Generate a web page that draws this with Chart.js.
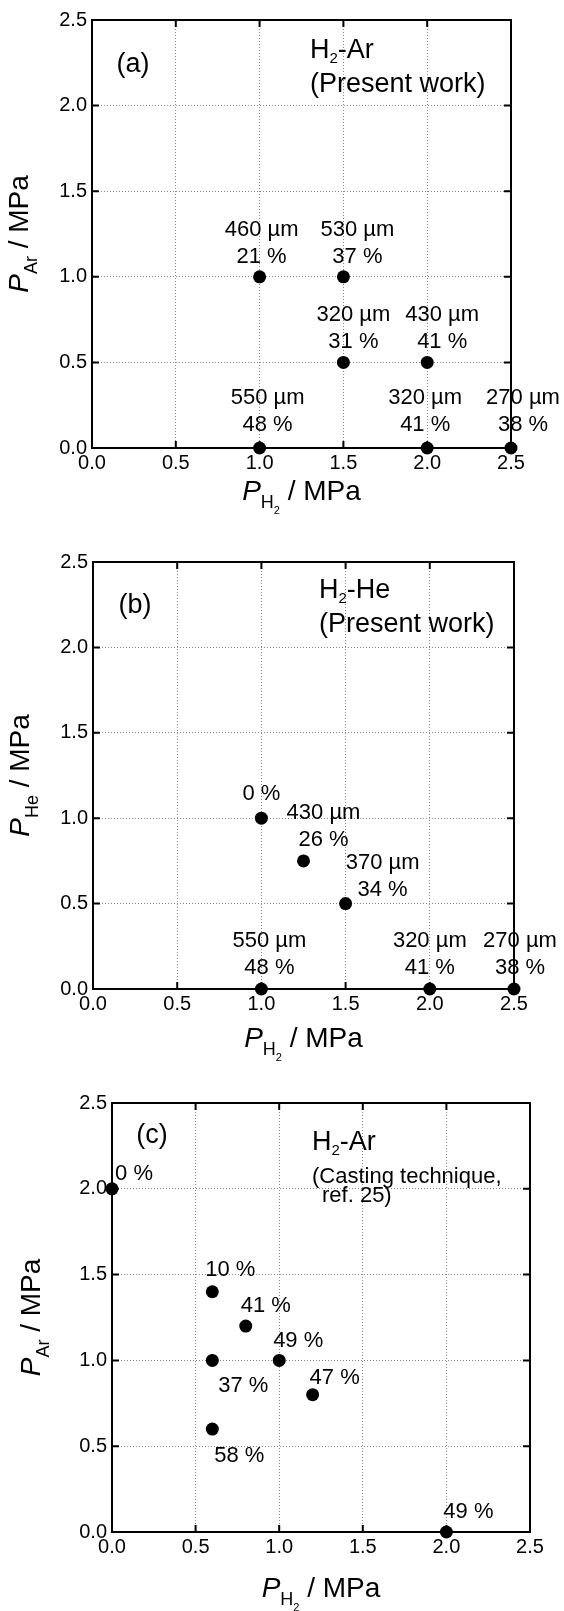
<!DOCTYPE html>
<html lang="en">
<head>
    <meta charset="UTF-8">
    <title>Pore size and porosity vs. gas pressures</title>
    <script src="https://cdn.jsdelivr.net/npm/chart.js"></script>
    <style>
        body { margin: 0; background: #fff; }
        .panel { position: absolute; left: 0; }
    </style>
</head>
<body>
    <canvas id="chartA" class="panel" style="top:0px" width="564" height="520"></canvas>
    <canvas id="chartB" class="panel" style="top:520px" width="564" height="545"></canvas>
    <canvas id="chartC" class="panel" style="top:1065px" width="564" height="546"></canvas>

    <script>
        const tickValues = [0, 0.5, 1.0, 1.5, 2.0, 2.5];

        // (a) H2-Ar, present work
        const h2A = [1.0, 1.5, 1.5, 2.0, 1.0, 2.0, 2.5];
        const arA = [1.0, 1.0, 0.5, 0.5, 0.0, 0.0, 0.0];
        const poreSizeA = ['460 µm', '530 µm', '320 µm', '430 µm', '550 µm', '320 µm', '270 µm'];
        const porosityA = ['21 %', '37 %', '31 %', '41 %', '48 %', '41 %', '38 %'];

        // (b) H2-He, present work
        const h2B = [1.0, 1.25, 1.5, 1.0, 2.0, 2.5];
        const heB = [1.0, 0.75, 0.5, 0.0, 0.0, 0.0];
        const poreSizeB = ['', '430 µm', '370 µm', '550 µm', '320 µm', '270 µm'];
        const porosityB = ['0 %', '26 %', '34 %', '48 %', '41 %', '38 %'];

        // (c) H2-Ar, casting technique (ref. 25)
        const h2C = [0.0, 0.6, 0.8, 0.6, 1.0, 1.2, 0.6, 2.0];
        const arC = [2.0, 1.4, 1.2, 1.0, 1.0, 0.8, 0.6, 0.0];
        const porosityC = ['0 %', '10 %', '41 %', '37 %', '49 %', '47 %', '58 %', '49 %'];

        // label placement (px from the dot, centre of the last line)
        const shiftA = [[2, -22], [14, -22], [10, -22], [15, -22], [8, -25], [-2, -25], [12, -25]];
        const shiftB = [[0, -26], [20, -23], [37, -16], [8, -23], [0, -23], [6, -23]];
        const shiftC = [[22, -17], [18, -24], [20, -22], [31, 24], [19, -21], [22, -19], [27, 25], [22, -22]];

        const FONT = "'Liberation Sans', Arial, Helvetica, sans-serif";

        const fontStr = (p) => (p.italic ? 'italic ' : '') + p.size + 'px ' + FONT;

        // text made of pieces, for sub-scripts
        function drawRich(ctx, parts, x, y, align) {
            let w = 0;
            parts.forEach(p => { ctx.font = fontStr(p); w += ctx.measureText(p.t).width; });
            let cx = align === 'center' ? x - w / 2 : x;
            ctx.textAlign = 'left';
            ctx.textBaseline = 'alphabetic';
            parts.forEach(p => {
                ctx.font = fontStr(p);
                ctx.fillText(p.t, cx, y + (p.dy || 0));
                cx += ctx.measureText(p.t).width;
            });
        }

        const decorPlugin = {
            id: 'decor',
            beforeDatasetsDraw(chart, args, o) {
                const { ctx, chartArea: a, scales: { x, y } } = chart;
                ctx.save();
                ctx.strokeStyle = '#000';
                ctx.lineWidth = 2;
                ctx.strokeRect(a.left, a.top, a.right - a.left, a.bottom - a.top);
                ctx.beginPath();
                x.ticks.forEach(t => {
                    const p = x.getPixelForValue(t.value);
                    ctx.moveTo(p, a.bottom); ctx.lineTo(p, a.bottom - 7);
                    ctx.moveTo(p, a.top); ctx.lineTo(p, a.top + 7);
                });
                y.ticks.forEach(t => {
                    const p = y.getPixelForValue(t.value);
                    ctx.moveTo(a.left, p); ctx.lineTo(a.left + 7, p);
                    ctx.moveTo(a.right, p); ctx.lineTo(a.right - 7, p);
                });
                ctx.stroke();
                ctx.restore();
            },
            afterDraw(chart, args, o) {
                const { ctx, chartArea: a } = chart;
                ctx.save();
                ctx.fillStyle = '#000';

                // point labels
                const meta = chart.getDatasetMeta(0);
                ctx.font = '22px ' + FONT;
                ctx.textAlign = 'center';
                ctx.textBaseline = 'alphabetic';
                meta.data.forEach((pt, i) => {
                    const lines = o.labels[i].filter(s => s);
                    const [dx, dy] = o.shifts[i];
                    lines.forEach((s, k) => {
                        const cy = pt.y + dy - (lines.length - 1 - k) * 27;
                        ctx.fillText(s, pt.x + dx, cy + 8);
                    });
                });

                // panel notes
                o.notes.forEach(n => {
                    drawRich(ctx, n.parts, a.left + n.x, a.top + n.y, n.align);
                });

                // axis titles
                const midX = (a.left + a.right) / 2;
                const midY = (a.top + a.bottom) / 2;
                drawRich(ctx, [
                    { t: 'P', size: 28, italic: true },
                    { t: 'H', size: 18, dy: 8 },
                    { t: '2', size: 11, dy: 14 },
                    { t: ' / MPa', size: 28 }
                ], midX, a.bottom + o.xTitleGap, 'center');

                ctx.translate(a.left - o.yTitleGap, midY);
                ctx.rotate(-Math.PI / 2);
                drawRich(ctx, [
                    { t: 'P', size: 28, italic: true },
                    { t: o.gas, size: 18, dy: 9 },
                    { t: ' / MPa', size: 28 }
                ], 0, 0, 'center');
                ctx.restore();
            }
        };

        function axis(size, isX, cfg) {
            return {
                type: 'linear',
                min: 0,
                max: 2.5,
                afterBuildTicks: s => { s.ticks = tickValues.map(v => ({ value: v })); },
                ticks: {
                    color: '#000',
                    padding: isX ? 3 : 5,
                    font: { family: FONT, size: 20 },
                    callback: v => Number(v).toFixed(1)
                },
                grid: { color: '#888', lineWidth: 1, drawTicks: false },
                border: { display: false, dash: [1, 2] },
                afterFit: s => { if (isX) s.height = size; else s.width = size; }
            };
        }

        function makeChart(id, xs, ys, labels, shifts, cfg) {
            const pts = xs.map((v, i) => ({ x: v, y: ys[i] }));
            return new Chart(document.getElementById(id), {
                type: 'scatter',
                data: {
                    datasets: [{
                        data: pts,
                        backgroundColor: '#000',
                        borderWidth: 0,
                        pointRadius: 6.5,
                        clip: false
                    }]
                },
                options: {
                    responsive: false,
                    animation: false,
                    layout: { padding: { top: cfg.top, right: cfg.right, left: 0, bottom: 0 } },
                    plugins: {
                        legend: { display: false },
                        tooltip: { enabled: false },
                        decor: {
                            labels: labels,
                            shifts: shifts,
                            notes: cfg.notes,
                            gas: cfg.gas,
                            xTitleGap: cfg.xTitleGap,
                            yTitleGap: cfg.yTitleGap
                        }
                    },
                    scales: {
                        x: axis(cfg.xHeight, true),
                        y: axis(cfg.yWidth, false)
                    }
                },
                plugins: [decorPlugin]
            });
        }

        const big = 27;

        makeChart('chartA', h2A, arA,
            poreSizeA.map((s, i) => [s, porosityA[i]]), shiftA, {
                top: 20, right: 53, xHeight: 72, yWidth: 92,
                gas: 'Ar', xTitleGap: 52, yTitleGap: 64,
                notes: [
                    { x: 41, y: 52, align: 'center', parts: [{ t: '(a)', size: big }] },
                    { x: 218, y: 38, parts: [{ t: 'H', size: big }, { t: '2', size: 15, dy: 5 }, { t: '-Ar', size: big }] },
                    { x: 218, y: 72, parts: [{ t: '(Present work)', size: big }] }
                ]
            });

        makeChart('chartB', h2B, heB,
            poreSizeB.map((s, i) => [s, porosityB[i]]), shiftB, {
                top: 42, right: 50, xHeight: 76, yWidth: 93,
                gas: 'He', xTitleGap: 58, yTitleGap: 64,
                notes: [
                    { x: 42, y: 51, align: 'center', parts: [{ t: '(b)', size: big }] },
                    { x: 226, y: 36, parts: [{ t: 'H', size: big }, { t: '2', size: 15, dy: 5 }, { t: '-He', size: big }] },
                    { x: 226, y: 70, parts: [{ t: '(Present work)', size: big }] }
                ]
            });

        makeChart('chartC', h2C, arC,
            porosityC.map(s => [s]), shiftC, {
                top: 38, right: 34, xHeight: 79, yWidth: 112,
                gas: 'Ar', xTitleGap: 65, yTitleGap: 72,
                notes: [
                    { x: 40, y: 40, align: 'center', parts: [{ t: '(c)', size: big }] },
                    { x: 200, y: 47, parts: [{ t: 'H', size: big }, { t: '2', size: 15, dy: 5 }, { t: '-Ar', size: big }] },
                    { x: 200, y: 80, parts: [{ t: '(Casting technique,', size: 22 }] },
                    { x: 210, y: 99, parts: [{ t: 'ref. 25)', size: 22 }] }
                ]
            });
    </script>
</body>
</html>
